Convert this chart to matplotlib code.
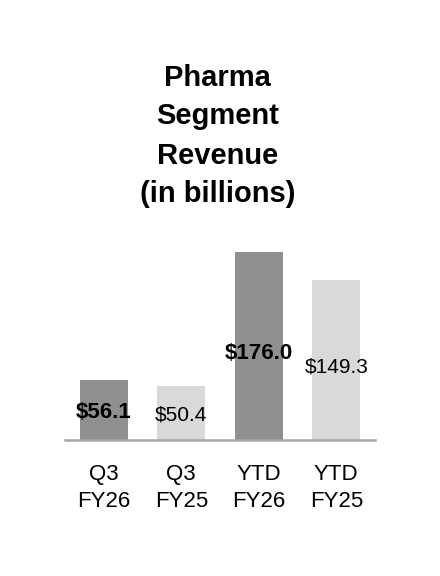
import matplotlib
matplotlib.use("Agg")
import matplotlib.pyplot as plt

# data
categories = ["Q3\nFY26", "Q3\nFY25", "YTD\nFY26", "YTD\nFY25"]
revenue = [56.1, 50.4, 176.0, 149.3]
value_labels = ["$56.1", "$50.4", "$176.0", "$149.3"]
is_current = [True, False, True, False]

dark = "#8f8f8f"
light = "#d9d9d9"
font = ["Liberation Sans", "DejaVu Sans"]

fig = plt.figure(figsize=(4.4, 5.76), dpi=100)
ax = fig.add_axes([65 / 440, 136 / 576, 310 / 440, 200 / 576])

x = list(range(len(categories)))
colors = [dark if c else light for c in is_current]
ax.bar(x, revenue, width=0.62, color=colors, zorder=2)

for xi, v, lab, cur in zip(x, revenue, value_labels, is_current):
    ax.text(xi, v * 0.46, lab, ha="center", va="center",
            fontsize=16 if cur else 15, fontweight="bold" if cur else "normal",
            family=font, color="black", zorder=3)

ax.set_xlim(-0.5, 3.5)
ax.set_ylim(0, 187)
ax.set_xticks(x)
ax.set_xticklabels(categories, fontsize=16, family=font, linespacing=1.4)
ax.tick_params(axis="x", length=0, pad=17)
ax.set_yticks([])
for s in ["top", "right", "left"]:
    ax.spines[s].set_visible(False)
ax.spines["bottom"].set_color("#a6a6a6")
ax.spines["bottom"].set_linewidth(1.8)

fig.text(0.495, 1 - 136 / 576, "Pharma\nSegment\nRevenue\n(in billions)",
         ha="center", va="center", fontsize=21, fontweight="bold",
         family=font, linespacing=1.5)

fig.savefig("out.png", dpi=100, facecolor="white")
